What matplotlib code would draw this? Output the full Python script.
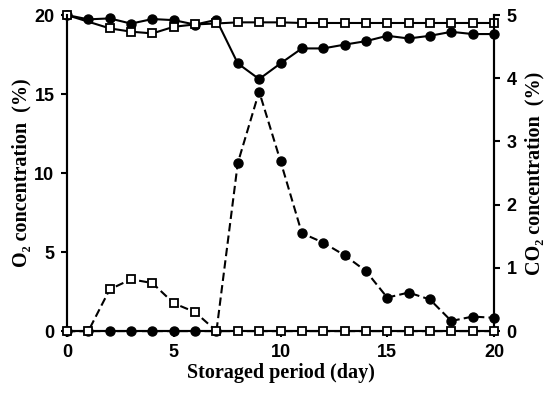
import matplotlib
matplotlib.use("Agg")
import matplotlib.pyplot as plt

days = list(range(21))

# O2 (%) - left axis
o2_circle = [20.0, 19.73, 19.79, 19.46, 19.75, 19.68, 19.4, 19.7, 16.94, 15.95,
             16.94, 17.89, 17.89, 18.13, 18.35, 18.69, 18.52, 18.69, 18.94, 18.8, 18.8]
# no square visible at day 1 in the source figure
o2_square_days = [0] + list(range(2, 21))
o2_square = [20.0, 19.16, 18.95, 18.84, 19.26, 19.41, 19.47, 19.54, 19.54,
             19.54, 19.5, 19.5, 19.5, 19.5, 19.5, 19.5, 19.5, 19.5, 19.5, 19.5]

# CO2 (%) - right axis
co2_circle = [0, 0, 0, 0, 0, 0, 0, 0, 2.66, 3.79,
              2.69, 1.55, 1.40, 1.20, 0.95, 0.53, 0.61, 0.50, 0.16, 0.23, 0.21]
co2_square = [0, 0, 0.66, 0.82, 0.76, 0.44, 0.30, 0, 0, 0,
              0, 0, 0, 0, 0, 0, 0, 0, 0, 0, 0]

TICK_FONT = dict(family=["Liberation Sans", "DejaVu Sans"], weight="bold", size=13)
LABEL_FONT = dict(family=["Liberation Serif", "DejaVu Serif"], weight="bold", size=14.5)

fig = plt.figure(figsize=(5.56, 3.97), dpi=100)
ax = fig.add_axes([0.1205, 0.166, 0.768, 0.796])
ax2 = ax.twinx()

ax.plot(days, o2_circle, color="black", lw=1.5, marker="o", ms=6.5,
        mfc="black", mec="black", clip_on=False, zorder=3)
ax.plot(o2_square_days, o2_square, color="black", lw=1.5, marker="s", ms=6,
        mfc="white", mec="black", mew=1.3, clip_on=False, zorder=4)

ax2.plot(days, co2_circle, color="black", lw=1.5, ls=(0, (4, 2)), marker="o",
         ms=6.5, mfc="black", mec="black", clip_on=False, zorder=3)
ax2.plot(days, co2_square, color="black", lw=1.5, ls=(0, (4, 2)), marker="s",
         ms=6, mfc="white", mec="black", mew=1.3, clip_on=False, zorder=4)

ax.set_xlim(0, 20)
ax.set_ylim(0, 20)
ax2.set_ylim(0, 5)
ax.set_xticks([0, 5, 10, 15, 20])
ax.set_yticks([0, 5, 10, 15, 20])
ax2.set_yticks([0, 1, 2, 3, 4, 5])

for a in (ax, ax2):
    a.spines["top"].set_visible(False)
    for s in a.spines.values():
        s.set_linewidth(1.5)
    a.tick_params(direction="out", length=4, width=1.5, pad=5)
    for lab in a.get_xticklabels() + a.get_yticklabels():
        lab.set(**TICK_FONT)

ax.set_xlabel("Storaged period (day)", labelpad=2, **LABEL_FONT)
ax.set_ylabel("O₂ concentration  (%)", labelpad=2, **LABEL_FONT)
ax2.set_ylabel("CO₂ concentration  (%)", labelpad=6, **LABEL_FONT)

fig.savefig("out.png", dpi=100)
